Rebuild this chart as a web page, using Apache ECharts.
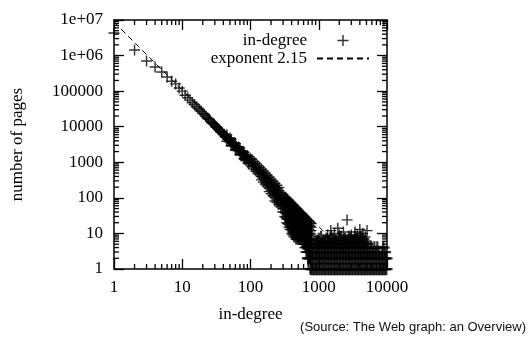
<!DOCTYPE html>
<html>
<head>
<meta charset="utf-8">
<script src="https://cdn.jsdelivr.net/npm/echarts@6.0.0/dist/echarts.min.js"></script>
<style>
	body { margin: 0; background: #fff; }
	#degree_chart { width: 529px; height: 343px; }
</style>
</head>
<body>
<div id="degree_chart"></div>
<script>
// in-degree 1..20, one count each
var headDegree = [1, 2, 3, 4, 5, 6, 7, 8, 9, 10, 11, 12, 13, 14, 15, 16, 17, 18, 19, 20];
var headPages = [4300000, 1440000, 700000, 480000, 345000, 250000, 190000, 160000, 123000, 100000,
	77000, 65000, 56000, 48000, 42000, 37000, 33000, 29500, 26600, 24000];

// narrow part of the band (in-degree 21..99)
var bandDegree = [21, 22, 23, 24, 25, 26, 27, 28, 29, 30, 31, 32, 33, 34, 35, 36, 37, 38, 39, 40, 41, 42, 43, 44,
	45, 46, 47, 48, 50, 52, 54, 56, 58, 60, 62, 65, 67, 70, 72, 75, 77, 80, 83, 86, 89, 92, 95, 99];
var bandPages = [22500, 19900, 17900, 16800, 15900, 14300, 13100, 12400, 11900, 10900, 9900, 9800, 8970, 8300,
	8200, 7600, 7000, 7000, 6500, 6000, 6100, 5600, 5200, 5300, 4900, 4600, 4700, 4300, 3800, 3700, 3600, 3200,
	2900, 2800, 2750, 2400, 2150, 2070, 2050, 1810, 1650, 1590, 1550, 1380, 1250, 1210, 1180, 1050];
var bandExtra = [[45, 5900], [45, 3900], [50, 4800], [52, 4400], [52, 2950], [54, 2900], [58, 3500],
	[60, 3350], [60, 2250], [62, 2200], [67, 2700], [70, 2500], [70, 1650], [72, 1600], [77, 2050],
	[80, 1900], [80, 1270], [83, 1200], [86, 1100], [89, 1550], [92, 1450], [92, 960], [95, 930], [99, 1300]];

// wider part: several counts per in-degree
var spreadDegree = [105, 112, 120, 128, 136, 145, 155, 165, 176, 188, 200, 214, 228, 244, 260, 278, 297,
	318, 330, 340, 352, 365, 378, 390, 404, 418, 432, 447, 462, 478, 495, 512, 530, 548, 567, 586, 606,
	627, 649, 671, 694, 718, 743, 768];
var spreadPages = [
	[1200, 943, 760], [1050, 823, 650], [920, 723, 570], [800, 635, 500], [720, 565, 450],
	[640, 500, 400, 320], [560, 436, 350, 280], [490, 388, 310, 245], [430, 339, 270, 215],
	[380, 300, 240, 190, 150], [330, 265, 210, 165, 130], [290, 233, 185, 145, 115],
	[255, 206, 165, 130, 103, 82], [225, 180, 145, 115, 92, 74], [195, 159, 127, 100, 80, 65],
	[139, 110, 88, 70, 57], [122, 97, 78, 62, 50, 40],
	[106, 85, 68, 52, 40, 30], [98, 78, 62, 48, 37, 28], [94, 75, 58, 46, 35, 26, 20],
	[88, 70, 55, 43, 33, 25, 19], [82, 65, 51, 40, 31, 24, 18, 15], [76, 60, 47, 37, 29, 22, 17, 13],
	[72, 56, 44, 35, 27, 21, 16, 13], [67, 53, 41, 32, 25, 19, 15, 12, 10], [63, 49, 38, 30, 23, 18, 14, 11, 9],
	[58, 46, 36, 28, 22, 17, 13, 10, 8], [55, 43, 33, 26, 20, 16, 12, 10, 8], [51, 40, 31, 24, 19, 15, 12, 9, 7],
	[48, 37, 29, 23, 18, 14, 11, 9, 7], [45, 35, 27, 21, 17, 13, 10, 8, 7], [42, 33, 26, 20, 16, 12, 10, 8, 7],
	[39, 31, 24, 19, 15, 12, 9, 7], [37, 29, 23, 18, 14, 11, 9, 7], [35, 27, 21, 17, 13, 10, 8, 6],
	[32, 25, 20, 16, 12, 10, 8, 6, 5], [30, 24, 19, 15, 12, 9, 7, 6, 5],
	[28, 22, 17, 14, 11, 9, 7, 5, 4], [26, 21, 16, 13, 10, 8, 6, 5, 4, 3], [25, 19, 15, 12, 9, 7, 6, 5, 4, 3],
	[23, 18, 14, 11, 9, 7, 5, 4, 3, 2], [22, 17, 13, 10, 8, 6, 5, 4, 3, 2], [20, 16, 12, 10, 8, 6, 5, 4, 3, 2, 1],
	[19, 15, 12, 9, 7, 6, 5, 4, 3, 2, 1]
];

// tail: in-degrees that have only a few pages (count 1..8)
var tailCount1 = [780, 820, 860, 910, 955, 1000, 1055, 1110, 1170, 1230, 1290, 1360, 1430, 1500, 1580, 1670,
	1750, 1840, 1940, 2040, 2150, 2260, 2380, 2500, 2630, 2760, 2900, 3050, 3210, 3380, 3560, 3740, 3930, 4140,
	4350, 4580, 4820, 5060, 5330, 5600, 5890, 6200, 6520, 6860, 7220, 7590, 7980, 8400, 8830, 9290, 9770];
var tailCount2 = [700, 740, 780, 820, 860, 910, 955, 1000, 1055, 1110, 1170, 1230, 1290, 1360, 1430, 1500, 1580,
	1670, 1750, 1840, 1940, 2040, 2150, 2260, 2380, 2500, 2630, 2760, 2900, 3050, 3210, 3380, 3560, 3740, 3930,
	4140, 4350, 4580, 4820, 5060, 5330, 5600, 5890, 6200, 6520, 6860, 7220, 7590, 7980, 8400, 8830, 9290, 9770];
var tailCount3 = [760, 820, 910, 1000, 1110, 1230, 1360, 1500, 1670, 1840, 2040, 2260, 2500, 2760, 3050, 3380,
	3740, 4140, 4580, 5060, 5600, 6200, 6860, 7590, 8400, 9290];
var tailCount4 = [860, 955, 1055, 1170, 1290, 1430, 1580, 1750, 1940, 2150, 2380, 2630, 2900, 3210, 3560, 3930,
	4350, 4820, 5330, 5890, 6520, 7220, 8830];
var tailCount5 = [820, 910, 1000, 1110, 1230, 1360, 1500, 1670, 1840, 2040, 2260, 2500, 2760, 3050, 3380, 3740,
	4140, 4580, 5060];
var tailCount6 = [955, 1170, 1430, 1750, 2150, 2630, 3210, 3930, 4820];
var tailCount7 = [1000, 1300, 1620, 1980, 2420, 2970, 3630, 4450];
var tailCount8 = [1080, 1510, 2120, 2770, 3400, 4160];
var tailOutliers = [[1350, 9], [1500, 12], [1700, 10], [1900, 14], [2000, 9], [2300, 11], [2600, 24],
	[3000, 9], [3400, 11], [3700, 9], [4000, 13], [4400, 10], [4800, 8], [5100, 12]];

// fitted power law, exponent 2.15
var fitLine = [[1, 8800000], [4200, 1]];

var xMinorTicks = [2, 3, 4, 5, 6, 7, 8, 9, 20, 30, 40, 50, 60, 70, 80, 90,
	200, 300, 400, 500, 600, 700, 800, 900, 2000, 3000, 4000, 5000, 6000, 7000, 8000, 9000];
var yMinorTicks = [];
[1, 10, 100, 1000, 10000, 100000, 1000000].forEach(function (d) {
	for (var k = 2; k <= 9; k++) yMinorTicks.push(k * d);
});

var degree_chart = echarts.init(document.getElementById("degree_chart"));

function buildPoints() {
	var pts = [];
	headDegree.forEach(function (d, i) { pts.push([d, headPages[i]]); });
	bandDegree.forEach(function (d, i) { pts.push([d, bandPages[i]]); });
	bandExtra.forEach(function (p) { pts.push(p); });
	spreadDegree.forEach(function (d, i) {
		spreadPages[i].forEach(function (c) { pts.push([d, c]); });
	});
	tailOutliers.forEach(function (p) { pts.push(p); });
	return pts;
}

function buildTail() {
	var pts = [];
	var rows = [tailCount1, tailCount2, tailCount3, tailCount4, tailCount5, tailCount6, tailCount7, tailCount8];
	rows.forEach(function (row, i) {
		row.forEach(function (d) { pts.push([d, i + 1]); });
	});
	return pts;
}

function minorX(params, api) {
	var cs = params.coordSys;
	var x = api.coord([api.value(0), 1])[0];
	var b = cs.y + cs.height;
	return {
		type: 'group',
		children: [
			{ type: 'line', shape: { x1: x, y1: b, x2: x, y2: b - 5 }, style: { stroke: '#000', lineWidth: 1.3 } },
			{ type: 'line', shape: { x1: x, y1: cs.y, x2: x, y2: cs.y + 5 }, style: { stroke: '#000', lineWidth: 1.3 } }
		]
	};
}

function minorY(params, api) {
	var cs = params.coordSys;
	var y = api.coord([1, api.value(1)])[1];
	var r = cs.x + cs.width;
	return {
		type: 'group',
		children: [
			{ type: 'line', shape: { x1: cs.x, y1: y, x2: cs.x + 5, y2: y }, style: { stroke: '#000', lineWidth: 1.3 } },
			{ type: 'line', shape: { x1: r, y1: y, x2: r - 5, y2: y }, style: { stroke: '#000', lineWidth: 1.3 } }
		]
	};
}

function yLabel(v) {
	var e = Math.round(Math.log(v) / Math.LN10);
	if (e >= 6) return '1e+0' + e;
	return String(Math.round(v));
}

function xLabel(v) {
	return String(Math.round(v));
}

var serif = 'Liberation Serif';
var crossSymbol = 'path://M0,4.35h10v1.3h-10zM4.35,0h1.3v10h-1.3z';
var crossBold = 'path://M0,4.1h10v1.8h-10zM4.1,0h1.8v10h-1.8z';

function axisBase(pos, isX) {
	return {
		type: 'log',
		logBase: 10,
		position: pos,
		min: 1,
		max: isX ? 10000 : 10000000,
		splitNumber: isX ? 4 : 7,
		axisLine: { show: true, lineStyle: { color: '#000', width: 1.5 } },
		axisTick: { show: true, inside: true, length: 10, lineStyle: { color: '#000', width: 1.3 } },
		splitLine: { show: false },
		minorTick: { show: false }
	};
}

var xBottom = axisBase('bottom', true);
xBottom.axisLabel = { color: '#000', fontFamily: serif, fontSize: 17, margin: 10, formatter: xLabel };
xBottom.name = 'in-degree';
xBottom.nameLocation = 'middle';
xBottom.nameGap = 37;
xBottom.nameTextStyle = { color: '#000', fontFamily: serif, fontSize: 17 };
var xTop = axisBase('top', true);
xTop.axisLabel = { show: false };

var yLeft = axisBase('left', false);
yLeft.axisLabel = { color: '#000', fontFamily: serif, fontSize: 17, margin: 11, formatter: yLabel };
yLeft.name = 'number of pages';
yLeft.nameLocation = 'middle';
yLeft.nameGap = 88;
yLeft.nameTextStyle = { color: '#000', fontFamily: serif, fontSize: 17 };
var yRight = axisBase('right', false);
yRight.axisLabel = { show: false };

var option = {
	animation: false,
	backgroundColor: '#fff',
	grid: { left: 114, top: 20, right: 142, bottom: 74 },
	legend: {
		data: ['in-degree', { name: 'exponent 2.15', itemStyle: { opacity: 0 } }],
		orient: 'vertical',
		align: 'right',
		right: 154,
		top: 27,
		itemWidth: 52,
		itemHeight: 11,
		itemGap: 1,
		textStyle: { color: '#000', fontFamily: serif, fontSize: 17, padding: [0, 5, 0, 0] }
	},
	xAxis: [xBottom, xTop],
	yAxis: [yLeft, yRight],
	graphic: [{
		type: 'text',
		right: 3,
		top: 321,
		style: { text: '(Source: The Web graph: an Overview)', fill: '#111', font: '13px "Liberation Sans"' }
	}],
	series: [
		{
			name: 'in-degree',
			type: 'scatter',
			symbol: crossSymbol,
			symbolSize: 11,
			itemStyle: { color: '#000' },
			data: buildPoints()
		},
		{
			name: 'in-degree',
			type: 'scatter',
			symbol: crossBold,
			symbolSize: 12.5,
			itemStyle: { color: '#000' },
			data: buildTail()
		},
		{
			name: 'exponent 2.15',
			type: 'line',
			symbol: 'none',
			itemStyle: { color: '#000' },
			lineStyle: { color: '#000', width: 1, type: [6, 4] },
			data: fitLine
		},
		{
			type: 'custom',
			silent: true,
			renderItem: minorX,
			data: xMinorTicks.map(function (v) { return [v, 1]; })
		},
		{
			type: 'custom',
			silent: true,
			renderItem: minorY,
			data: yMinorTicks.map(function (v) { return [1, v]; })
		}
	]
};
degree_chart.setOption(option);
</script>
</body>
</html>
